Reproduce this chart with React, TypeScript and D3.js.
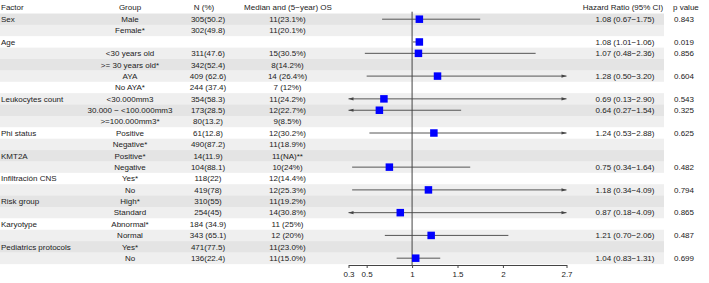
import { useEffect, useRef } from 'react'
import * as d3 from 'd3'

const headers = ["Factor", "Group", "N (%)", "Median and (5\u2212year) OS", "Hazard Ratio (95% CI)", "p value"]

const factors = ["Sex", "", "Age", "", "", "", "", "Leukocytes count", "", "", "Phi status", "", "KMT2A", "", "Infiltración CNS", "", "Risk group", "", "Karyotype", "", "Pediatrics protocols", ""]

const groups = ["Male", "Female*", "", "<30 years old", ">= 30 years old*", "AYA", "No AYA*", "<30.000mm3", "30.000 \u2212 <100.000mm3", ">=100.000mm3*", "Positive", "Negative*", "Positive*", "Negative", "Yes*", "No", "High*", "Standard", "Abnormal*", "Normal", "Yes*", "No"]

const nPercent = ["305(50.2)", "302(49.8)", "", "311(47.6)", "342(52.4)", "409 (62.6)", "244 (37.4)", "354(58.3)", "173(28.5)", "80(13.2)", "61(12.8)", "490(87.2)", "14(11.9)", "104(88.1)", "118(22)", "419(78)", "310(55)", "254(45)", "184 (34.9)", "343 (65.1)", "471(77.5)", "136(22.4)"]

const medianOS = ["11(23.1%)", "11(20.1%)", "", "15(30.5%)", "8(14.2%)", "14 (26.4%)", "7 (12%)", "11(24.2%)", "12(22.7%)", "9(8.5%)", "12(30.2%)", "11(18.9%)", "11(NA)**", "10(24%)", "12(14.4%)", "12(25.3%)", "11(19.2%)", "14(30.8%)", "11 (25%)", "12 (20%)", "11(23.0%)", "11(15.0%)"]

const hazard = [1.08, null, 1.08, 1.07, null, 1.28, null, 0.69, 0.64, null, 1.24, null, null, 0.75, null, 1.18, null, 0.87, null, 1.21, null, 1.04]
const lower = [0.67, null, 1.01, 0.48, null, 0.50, null, 0.13, 0.27, null, 0.53, null, null, 0.34, null, 0.34, null, 0.18, null, 0.70, null, 0.83]
const upper = [1.75, null, 1.06, 2.36, null, 3.20, null, 2.90, 1.54, null, 2.88, null, null, 1.64, null, 4.09, null, 4.09, null, 2.06, null, 1.31]

const hrLabels = ["1.08 (0.67\u22121.75)", "", "1.08 (1.01\u22121.06)", "1.07 (0.48\u22122.36)", "", "1.28 (0.50\u22123.20)", "", "0.69 (0.13\u22122.90)", "0.64 (0.27\u22121.54)", "", "1.24 (0.53\u22122.88)", "", "", "0.75 (0.34\u22121.64)", "", "1.18 (0.34\u22124.09)", "", "0.87 (0.18\u22124.09)", "", "1.21 (0.70\u22122.06)", "", "1.04 (0.83\u22121.31)"]

const pValues = ["0.843", "", "0.019", "0.856", "", "0.604", "", "0.543", "0.325", "", "0.625", "", "", "0.482", "", "0.794", "", "0.865", "", "0.487", "", "0.699"]

const ticks = [0.3, 0.5, 1, 1.5, 2, 2.7]

// zebra shading repeats every four rows
const bandColors = ["#e4e4e4", "#efefef", "#ffffff", "#efefef"]

function App() {
    const ref = useRef<SVGSVGElement>(null)

    useEffect(() => {
        const width = 709
        const height = 283
        const firstRow = 19.2
        const rowStep = 11.38
        const axisY = 265

        const svg = d3.select(ref.current)
        svg.selectAll("*").remove()

        const xScale = d3
            .scaleLinear()
            .domain([0.3, 2.7])
            .range([348.5, 566.5])

        const rowY = (i: number) => firstRow + i * rowStep

        const rows = d3.range(factors.length)

        // row backgrounds
        svg
            .append("g")
            .selectAll("rect")
            .data(rows)
            .enter()
            .append("rect")
            .attr("x", 0)
            .attr("y", (i) => rowY(i) - rowStep / 2)
            .attr("width", 664)
            .attr("height", rowStep + 0.3)
            .attr("fill", (i) => bandColors[i % 4])

        const text = svg
            .append("g")
            .style("font-family", "'Liberation Sans', Arial, sans-serif")
            .style("font-size", "8px")
            .attr("fill", "#222")

        const headerX = [1, 130, 204, 288, 623, 673]
        const headerAnchor = ["start", "middle", "middle", "middle", "middle", "start"]
        headers.forEach((h, k) => {
            text
                .append("text")
                .attr("x", headerX[k])
                .attr("y", 7)
                .attr("dy", "0.35em")
                .attr("text-anchor", headerAnchor[k])
                .text(h)
        })

        const columns = [
            { values: factors, x: 1, anchor: "start" },
            { values: groups, x: 130, anchor: "middle" },
            { values: nPercent, x: 208, anchor: "middle" },
            { values: medianOS, x: 287.5, anchor: "middle" },
            { values: hrLabels, x: 625, anchor: "middle" },
            { values: pValues, x: 674, anchor: "start" },
        ]

        for (const col of columns) {
            text
                .append("g")
                .selectAll("text")
                .data(rows)
                .enter()
                .append("text")
                .attr("x", col.x)
                .attr("y", (i) => rowY(i))
                .attr("dy", "0.35em")
                .attr("text-anchor", col.anchor)
                .text((i) => col.values[i])
        }

        // reference line at HR = 1
        svg
            .append("line")
            .attr("x1", xScale(1))
            .attr("x2", xScale(1))
            .attr("y1", firstRow - 7.5)
            .attr("y2", axisY)
            .attr("stroke", "#444")
            .attr("stroke-width", 1)

        const [lo, hi] = xScale.domain()
        const withHr = rows.filter((i) => hazard[i] !== null)

        const ci = svg.append("g")
        for (const i of withHr) {
            const y = rowY(i)
            const l = lower[i] as number
            const u = upper[i] as number
            const x1 = xScale(Math.max(l, lo))
            const x2 = xScale(Math.min(u, hi))
            ci
                .append("line")
                .attr("x1", x1)
                .attr("x2", x2)
                .attr("y1", y)
                .attr("y2", y)
                .attr("stroke", "#444")
                .attr("stroke-width", 0.9)
            if (u > hi) {
                ci
                    .append("path")
                    .attr("d", `M${x2},${y} L${x2 - 5},${y - 1.6} L${x2 - 5},${y + 1.6} Z`)
                    .attr("fill", "#444")
            }
            if (l < lo) {
                ci
                    .append("path")
                    .attr("d", `M${x1},${y} L${x1 + 5},${y - 1.6} L${x1 + 5},${y + 1.6} Z`)
                    .attr("fill", "#444")
            }
        }

        const box = 7.5
        svg
            .append("g")
            .selectAll("rect")
            .data(withHr)
            .enter()
            .append("rect")
            .attr("x", (i) => xScale(hazard[i] as number) - box / 2)
            .attr("y", (i) => rowY(i) - box / 2)
            .attr("width", box)
            .attr("height", box)
            .attr("fill", "#0000ff")

        const axis = svg
            .append("g")
            .attr("transform", `translate(0, ${axisY})`)
            .call(
                d3.axisBottom(xScale)
                    .tickValues(ticks)
                    .tickFormat((d) => String(d))
                    .tickSize(3)
                    .tickSizeOuter(0)
            )
        axis.select(".domain").attr("stroke", "#444")
        axis.selectAll(".tick line").attr("stroke", "#444")
        axis
            .selectAll(".tick text")
            .attr("y", 6)
            .attr("fill", "#222")
            .style("font-family", "'Liberation Sans', Arial, sans-serif")
            .style("font-size", "8px")

        svg.attr("width", width).attr("height", height)
    }, [])

    return (
        <svg
            ref={ref}
            width={709}
            height={283}
            style={{ position: "absolute", left: 0, top: 0, background: "#fff" }}
        />
    )
}

export default App
